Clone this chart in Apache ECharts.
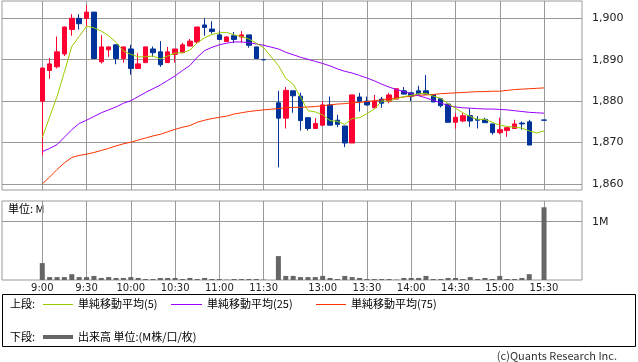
<!DOCTYPE html>
<html><head><meta charset="utf-8">
<script src="https://cdn.jsdelivr.net/npm/echarts@6/dist/echarts.min.js"></script>
<style>html,body{margin:0;padding:0;background:#fff}#c{width:638px;height:362px}</style>
</head><body><div id="c"></div>
<script>
// 5-minute slots: index 0 = 9:00 ... 30 = 11:30, 31 = gap, 32 = 12:30 ... 68 = 15:30
const tickIdx = [0, 6, 12, 18, 24, 30, 38, 44, 50, 56, 62, 68];
const tickLabels = ['9:00', '9:30', '10:00', '10:30', '11:00', '11:30', '13:00', '13:30', '14:00', '14:30', '15:00', '15:30'];
const priceTicks = [1860, 1870, 1880, 1890, 1900];
const volTicks = [1];

const openP = [1880.0,1887.4,1888.3,1891.4,1897.3,1900.0,1900.0,1901.5,1889.5,1892.4,1893.6,1890.3,1892.6,1887.9,1889.3,1892.6,1891.9,1889.3,1891.3,1891.7,1893.3,1894.3,1898.4,1897.4,1896.0,1894.4,1895.8,1895.5,1896.0,1893.1,1890.0,null,
1879.6,1875.9,1882.5,1881.2,1876.0,1873.4,1874.2,1879.1,1875.4,1874.0,1869.9,1881.0,1880.0,1878.4,1880.5,1880.0,1880.5,1882.5,1882.0,1882.5,1882.5,1881.6,1880.6,1879.3,1874.9,1875.2,1876.5,1875.6,1875.6,1874.5,1872.4,1872.9,1873.4,1874.7,1875.0,null,1875.45];
const closeP = [1888.0,1889.0,1891.9,1897.9,1900.0,1898.7,1901.5,1890.3,1893.1,1893.1,1890.3,1893.1,1887.9,1889.0,1893.1,1891.7,1888.8,1891.9,1892.6,1893.6,1894.5,1897.9,1897.8,1896.8,1894.9,1895.5,1894.9,1896.0,1893.5,1890.3,1890.0,null,
1875.9,1882.6,1881.3,1875.3,1873.4,1874.6,1879.1,1874.2,1874.4,1869.9,1881.5,1880.0,1879.1,1880.0,1879.5,1881.5,1883.0,1881.7,1881.2,1881.7,1881.7,1879.8,1878.9,1874.9,1876.1,1876.5,1875.2,1875.4,1874.8,1872.4,1873.1,1873.6,1874.5,1874.5,1869.4,null,1875.4];
const lowP = [1867.0,1885.4,1887.9,1890.9,1895.8,1897.3,1898.1,1890.3,1889.1,1890.7,1888.9,1889.3,1886.4,1887.9,1889.3,1890.7,1888.3,1889.3,1889.3,1891.7,1893.3,1894.0,1895.8,1896.3,1894.8,1894.4,1894.0,1894.1,1892.9,1890.3,1890.0,null,
1864.0,1873.4,1877.2,1872.9,1872.9,1873.4,1874.2,1874.2,1873.7,1868.9,1869.9,1877.5,1878.9,1878.4,1878.4,1879.5,1880.5,1881.7,1880.0,1881.7,1881.7,1879.8,1878.5,1874.9,1873.4,1874.9,1873.8,1873.4,1874.8,1871.9,1872.0,1871.4,1873.4,1873.1,1869.4,null,1875.4];
const highP = [1888.0,1890.4,1895.6,1898.0,1901.0,1901.0,1903.1,1901.5,1895.9,1893.2,1893.7,1893.2,1893.6,1891.6,1893.1,1893.2,1894.5,1893.1,1892.6,1894.1,1895.0,1897.9,1900.0,1899.3,1896.9,1895.7,1896.7,1896.9,1896.0,1893.1,1890.0,null,
1882.5,1883.4,1882.5,1882.0,1876.0,1875.9,1879.9,1881.1,1876.7,1874.0,1881.5,1882.0,1881.1,1881.5,1881.0,1882.0,1883.0,1883.4,1882.2,1883.7,1886.3,1881.6,1880.6,1879.3,1877.1,1877.1,1878.3,1876.4,1876.0,1874.5,1876.0,1873.6,1875.5,1875.1,1875.5,null,1875.45];

const ma5 = [1871.2,1876.2,1881.1,1887.1,1893.2,1895.6,1898.1,1897.7,1896.9,1895.8,1894.2,1892.1,1891.3,1890.7,1890.7,1890.9,1890.2,1890.9,1891.6,1891.7,1892.3,1894.1,1895.3,1896.1,1896.5,1896.6,1896.0,1895.6,1895.0,1894.0,1892.9,null,
1888.6,1885.5,1884.1,1881.0,1877.7,1877.4,1876.7,1875.3,1875.1,1874.4,1875.8,1876.0,1877.0,1878.1,1880.0,1880.0,1880.6,1881.1,1881.4,1881.8,1881.9,1881.2,1880.7,1879.4,1878.3,1877.2,1876.3,1875.6,1875.6,1874.9,1874.2,1873.9,1873.7,1873.5,1872.8,1872.3,1872.8];
const ma25 = [1867.8,1868.6,1869.5,1871.3,1873.1,1874.6,1875.4,1876.3,1877.2,1877.9,1878.6,1879.5,1880.1,1881.1,1882.1,1883.0,1883.9,1885.0,1886.1,1887.4,1888.6,1890.6,1892.2,1893.0,1893.6,1894.0,1894.3,1894.3,1894.1,1893.8,1893.5,null,
1892.6,1891.8,1891.2,1890.6,1890.1,1889.6,1889.1,1888.5,1887.8,1887.2,1886.8,1886.2,1885.6,1884.9,1884.1,1883.4,1882.8,1882.3,1881.8,1881.3,1880.8,1880.2,1879.6,1878.9,1878.6,1878.4,1878.3,1878.2,1878.1,1878.1,1878.0,1877.9,1877.7,1877.5,1877.3,1877.2,1877.1];
const ma75 = [1860.0,1861.7,1863.5,1865.1,1866.4,1866.9,1867.2,1867.6,1868.1,1868.6,1869.2,1869.7,1870.1,1870.6,1871.1,1871.6,1872.0,1872.6,1873.2,1873.7,1874.1,1874.9,1875.4,1875.8,1876.1,1876.4,1876.9,1877.2,1877.5,1877.7,1877.9,null,
1878.2,1878.4,1878.5,1878.5,1878.6,1878.7,1878.9,1879.1,1879.3,1879.4,1879.6,1879.7,1879.9,1880.1,1880.3,1880.6,1880.8,1881.0,1881.2,1881.4,1881.5,1881.6,1881.8,1881.9,1882.0,1882.1,1882.2,1882.3,1882.3,1882.4,1882.4,1882.6,1882.8,1882.9,1883.0,1883.1,1883.2];

// volume in millions
const volume = [0.29,0.05,0.05,0.05,0.10,0.05,0.05,0.07,0.035,0.05,0.035,0.035,0.05,0.035,0.017,0.017,0.035,0.035,0.035,0.017,0.035,0.017,0.035,0.017,0.017,0.006,0.017,0.017,0.017,0.017,0.006,null,
0.41,0.07,0.07,0.05,0.05,0.05,0.07,0.035,0.017,0.07,0.05,0.035,0.017,0.017,0.017,0.017,0.006,0.035,0.035,0.035,0.07,0.017,0.017,0.035,0.035,0.017,0.05,0.017,0.035,0.017,0.07,0.017,0.017,0.035,0.10,null,1.247];

const candleData = [], volData = [];
const toPairs = arr => arr.map((v, i) => [i, v]);
openP.forEach((o, i) => {
  if (o != null) candleData.push([i, o, closeP[i], lowP[i], highP[i]]);
  if (volume[i] != null) volData.push([i, volume[i]]);
});

const X_MIN = -5.459, X_MAX = 73.147;
const GRID_COL = '#999';
const fontNum = 'DejaVu Sans';
const fontJP = 'Noto Sans CJK JP';

const chart = echarts.init(document.getElementById('c'), null, {renderer: 'canvas'});
chart.setOption({
  animation: false,
  backgroundColor: '#fff',
  grid: [
    {left: 2, top: 1, width: 580, height: 189, show: true, borderColor: GRID_COL, borderWidth: 1, outerBoundsMode: 'none', containLabel: false},
    {left: 2, top: 201, width: 580, height: 79, show: true, borderColor: GRID_COL, borderWidth: 1, outerBoundsMode: 'none', containLabel: false}
  ],
  xAxis: [
    {type: 'value', gridIndex: 0, min: X_MIN, max: X_MAX,
     axisLine: {show: false}, axisTick: {show: false, customValues: tickIdx},
     axisLabel: {show: false, customValues: tickIdx},
     splitLine: {show: true, lineStyle: {color: GRID_COL, width: 1}}},
    {type: 'value', gridIndex: 1, min: X_MIN, max: X_MAX,
     axisLine: {show: false}, axisTick: {show: false, customValues: tickIdx},
     axisLabel: {show: true, customValues: tickIdx, margin: 3, fontSize: 10, fontFamily: fontNum, color: '#222',
       formatter: v => tickLabels[tickIdx.indexOf(Math.round(v))] || ''},
     splitLine: {show: true, lineStyle: {color: GRID_COL, width: 1}}}
  ],
  yAxis: [
    {type: 'value', gridIndex: 0, position: 'right', min: 1858.55, max: 1904.18,
     axisLine: {show: false},
     axisTick: {show: true, inside: false, length: 6, customValues: priceTicks, lineStyle: {color: GRID_COL}},
     axisLabel: {customValues: priceTicks, margin: 10, fontSize: 11, fontFamily: fontNum, color: '#222',
       formatter: v => Math.round(v).toLocaleString('en-US')},
     splitLine: {show: true, lineStyle: {color: GRID_COL, width: 1}}},
    {type: 'value', gridIndex: 1, position: 'right', min: 0, max: 1.355,
     axisLine: {show: false},
     axisTick: {show: true, inside: false, length: 6, customValues: volTicks, lineStyle: {color: GRID_COL}},
     axisLabel: {customValues: volTicks, margin: 10, fontSize: 11, fontFamily: fontNum, color: '#222',
       formatter: v => Math.round(v) + 'M'},
     splitLine: {show: true, lineStyle: {color: GRID_COL, width: 1}}}
  ],
  series: [
    {type: 'candlestick', xAxisIndex: 0, yAxisIndex: 0, data: candleData, barWidth: 5,
     encode: {x: 0, y: [1, 2, 3, 4]}, z: 2,
     itemStyle: {color: '#ff0033', color0: '#003399', borderColor: '#ff0033', borderColor0: '#003399', borderWidth: 1}},
    {type: 'line', xAxisIndex: 0, yAxisIndex: 0, data: toPairs(ma75), showSymbol: false, symbol: 'none', connectNulls: true, z: 3,
     lineStyle: {color: '#ff3300', width: 1}},
    {type: 'line', xAxisIndex: 0, yAxisIndex: 0, data: toPairs(ma25), showSymbol: false, symbol: 'none', connectNulls: true, z: 3,
     lineStyle: {color: '#9900ff', width: 1}},
    {type: 'line', xAxisIndex: 0, yAxisIndex: 0, data: toPairs(ma5), showSymbol: false, symbol: 'none', connectNulls: true, z: 3,
     lineStyle: {color: '#99cc00', width: 1}},
    {type: 'bar', xAxisIndex: 1, yAxisIndex: 1, data: volData, barWidth: 5, itemStyle: {color: '#666'}}
  ],
  graphic: [
    {type: 'text', left: 8, top: 203, style: {text: '単位: M', fontSize: 11, fontFamily: fontJP, fill: '#000'}},
    {type: 'rect', shape: {x: 2.5, y: 294.5, width: 633, height: 52}, style: {fill: 'none', stroke: '#000', lineWidth: 1}},
    {type: 'text', x: 10, y: 304, style: {text: '上段:', fontSize: 11, fontFamily: fontJP, fill: '#000', verticalAlign: 'middle'}},
    {type: 'line', shape: {x1: 43, y1: 304.5, x2: 73, y2: 304.5}, style: {stroke: '#99cc00', lineWidth: 1}},
    {type: 'text', x: 78, y: 304, style: {text: '単純移動平均(5)', fontSize: 11, fontFamily: fontJP, fill: '#000', verticalAlign: 'middle'}},
    {type: 'line', shape: {x1: 171, y1: 304.5, x2: 202, y2: 304.5}, style: {stroke: '#9900ff', lineWidth: 1}},
    {type: 'text', x: 207, y: 304, style: {text: '単純移動平均(25)', fontSize: 11, fontFamily: fontJP, fill: '#000', verticalAlign: 'middle'}},
    {type: 'line', shape: {x1: 316, y1: 304.5, x2: 346, y2: 304.5}, style: {stroke: '#ff3300', lineWidth: 1}},
    {type: 'text', x: 351, y: 304, style: {text: '単純移動平均(75)', fontSize: 11, fontFamily: fontJP, fill: '#000', verticalAlign: 'middle'}},
    {type: 'text', x: 10, y: 337, style: {text: '下段:', fontSize: 11, fontFamily: fontJP, fill: '#000', verticalAlign: 'middle'}},
    {type: 'line', shape: {x1: 43, y1: 337, x2: 73, y2: 337}, style: {stroke: '#666', lineWidth: 4}},
    {type: 'text', x: 78, y: 337, style: {text: '出来高 単位:(M株/口/枚)', fontSize: 11, fontFamily: fontJP, fill: '#000', verticalAlign: 'middle'}},
    {type: 'text', x: 617, y: 356, style: {text: '(c)Quants Research Inc.', fontSize: 11, fontFamily: fontJP, fill: '#333', align: 'right', verticalAlign: 'middle'}}
  ]
});
</script>
</body></html>
